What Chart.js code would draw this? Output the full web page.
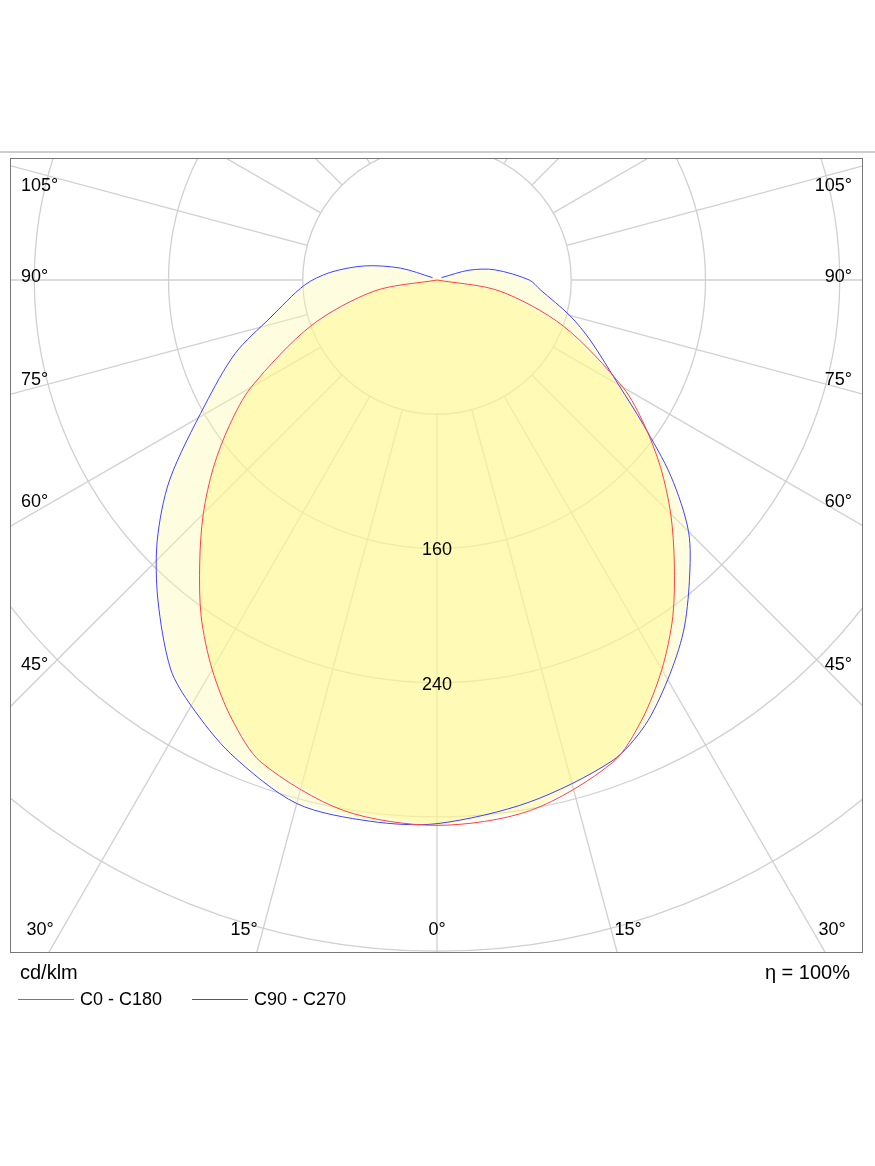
<!DOCTYPE html>
<html>
<head>
<meta charset="utf-8">
<style>
  html, body { margin: 0; padding: 0; background: #fff; }
  #wrap { width: 875px; height: 1166px; }
</style>
<script src="https://cdn.jsdelivr.net/npm/chart.js@4/dist/chart.umd.min.js"></script>
</head>
<body>
<div id="wrap"><canvas id="polar"></canvas></div>
<script>
// Luminous intensity (cd/klm) by angle from nadir
const redAngles = [0, 10, 20, 25, 30, 35, 40, 45, 50, 55, 60, 70, 80, 90];
const redValues = [325, 321, 306, 289, 268, 245, 220, 197, 174, 151, 128, 80, 38, 0];

const blueRightAngles = [0, 10, 20, 25, 30, 35, 40, 45, 50, 55, 60, 68.6, 75, 84.5, 90, 100, 107, 118];
const blueRightValues = [324, 316, 305, 293, 275, 256, 234, 212, 182, 150, 125, 98, 82, 62, 55, 35, 20, 3];

const blueLeftAngles = [0, 7, 15, 23.5, 30, 34.4, 41.1, 47, 53.2, 61.7, 70, 77.2, 87.8, 94, 101, 108, 118];
const blueLeftValues = [324, 325, 323, 308, 293, 281, 253, 228, 199, 157, 128, 102, 79, 64, 44, 23, 3];

const circleValues = [80, 160, 240, 320, 400, 480];
const circleLabels = ['160', '240'];
const angleLabels = ['105°', '90°', '75°', '60°', '45°'];
const bottomLabels = ['30°', '15°', '0°', '15°', '30°'];

function toXY(angle, value, side) {
    const a = angle * Math.PI / 180;
    return { x: side * value * Math.sin(a), y: -value * Math.cos(a) };
}

// build closed outlines: left side top -> nadir -> right side top
function outline(leftA, leftV, rightA, rightV) {
    const pts = [];
    for (let i = leftA.length - 1; i >= 0; i--) pts.push(toXY(leftA[i], leftV[i], -1));
    for (let i = 1; i < rightA.length; i++) pts.push(toXY(rightA[i], rightV[i], 1));
    return pts;
}

const redPts = outline(redAngles, redValues, redAngles, redValues);
const bluePts = outline(blueLeftAngles, blueLeftValues, blueRightAngles, blueRightValues);

const FONT = '18px "Liberation Sans", Arial, sans-serif';
const fillColors = ['rgba(255, 246, 130, 0.45)', 'rgba(255, 250, 175, 0.4)'];
const lineColors = ['#ff4040', '#4040ff'];

const polarGrid = {
    id: 'polarGrid',
    beforeDatasetsDraw(chart) {
        const { ctx, chartArea: ca, scales: { x, y } } = chart;
        const cx = x.getPixelForValue(0), cy = y.getPixelForValue(0);
        const k = x.getPixelForValue(100) - cx;
        ctx.save();
        ctx.beginPath();
        ctx.rect(ca.left, ca.top, ca.right - ca.left, ca.bottom - ca.top);
        ctx.clip();
        ctx.strokeStyle = '#d0d0d0';
        ctx.lineWidth = 1.3;
        circleValues.forEach(v => {
            ctx.beginPath();
            ctx.arc(cx, cy, v * k / 100, 0, Math.PI * 2);
            ctx.stroke();
        });
        const r0 = circleValues[0] * k / 100;
        for (let a = -180; a < 180; a += 15) {
            const t = a * Math.PI / 180;
            ctx.beginPath();
            ctx.moveTo(cx + r0 * Math.sin(t), cy + r0 * Math.cos(t));
            ctx.lineTo(cx + 2000 * Math.sin(t), cy + 2000 * Math.cos(t));
            ctx.stroke();
        }
        // filled outlines, blue first then red on top
        [1, 0].forEach(i => {
            const pts = chart.getDatasetMeta(i).data;
            ctx.beginPath();
            pts.forEach((p, j) => j ? ctx.lineTo(p.x, p.y) : ctx.moveTo(p.x, p.y));
            ctx.closePath();
            ctx.fillStyle = fillColors[i];
            ctx.fill();
        });
        ctx.restore();
    },
    afterDraw(chart) {
        const { ctx, chartArea: ca, scales: { x, y } } = chart;
        const cx = x.getPixelForValue(0);
        ctx.save();
        ctx.strokeStyle = '#777';
        ctx.lineWidth = 1;
        ctx.strokeRect(ca.left + 0.5, ca.top + 0.5, ca.right - ca.left, ca.bottom - ca.top);
        ctx.strokeStyle = '#ccc';
        ctx.lineWidth = 2;
        ctx.beginPath();
        ctx.moveTo(0, ca.top - 6);
        ctx.lineTo(875, ca.top - 6);
        ctx.stroke();

        ctx.font = FONT;
        ctx.fillStyle = '#000';
        ctx.textBaseline = 'middle';
        ctx.textAlign = 'center';
        circleLabels.forEach(t => {
            ctx.fillText(t, cx, y.getPixelForValue(-Number(t)) + 2);
        });
        const sideY = [186, 277, 380, 502, 665];
        angleLabels.forEach((t, i) => {
            ctx.textAlign = 'left';
            ctx.fillText(t, ca.left + 11, sideY[i]);
            ctx.textAlign = 'right';
            ctx.fillText(t, ca.right - 10, sideY[i]);
        });
        const bottomX = [40, 244, 437, 628, 832];
        ctx.textAlign = 'center';
        bottomLabels.forEach((t, i) => ctx.fillText(t, bottomX[i], 930));

        ctx.font = '20px "Liberation Sans", Arial, sans-serif';
        ctx.textAlign = 'left';
        ctx.fillText('cd/klm', 20, 973);
        ctx.textAlign = 'right';
        ctx.fillText('η = 100%', 850, 973);
        ctx.font = FONT;
        ctx.textAlign = 'left';
        chart.data.datasets.forEach((ds, i) => {
            const lx = [18, 192][i];
            ctx.strokeStyle = lineColors[i];
            ctx.lineWidth = 1;
            ctx.beginPath();
            ctx.moveTo(lx, 999.5);
            ctx.lineTo(lx + 56, 999.5);
            ctx.stroke();
            ctx.fillText(ds.label, lx + 62, 1000);
        });
        ctx.restore();
    }
};

const pxPerCd = 1.678;

new Chart(document.getElementById('polar'), {
    type: 'scatter',
    data: {
        datasets: [{
            label: 'C0 - C180',
            data: redPts,
            showLine: true,
            borderColor: lineColors[0],
            borderWidth: 1,
            fill: false,
            pointRadius: 0,
            tension: 0.3
        }, {
            label: 'C90 - C270',
            data: bluePts,
            showLine: true,
            borderColor: lineColors[1],
            borderWidth: 1,
            fill: false,
            pointRadius: 0,
            tension: 0.3
        }]
    },
    options: {
        responsive: true,
        maintainAspectRatio: false,
        animation: false,
        layout: { padding: { left: 10, right: 13, top: 158, bottom: 214 } },
        scales: {
            x: { type: 'linear', display: false, min: -427 / pxPerCd, max: 425 / pxPerCd },
            y: { type: 'linear', display: false, min: -672 / pxPerCd, max: 122 / pxPerCd }
        },
        plugins: { legend: { display: false }, tooltip: { enabled: false } }
    },
    plugins: [polarGrid]
});
</script>
</body>
</html>
